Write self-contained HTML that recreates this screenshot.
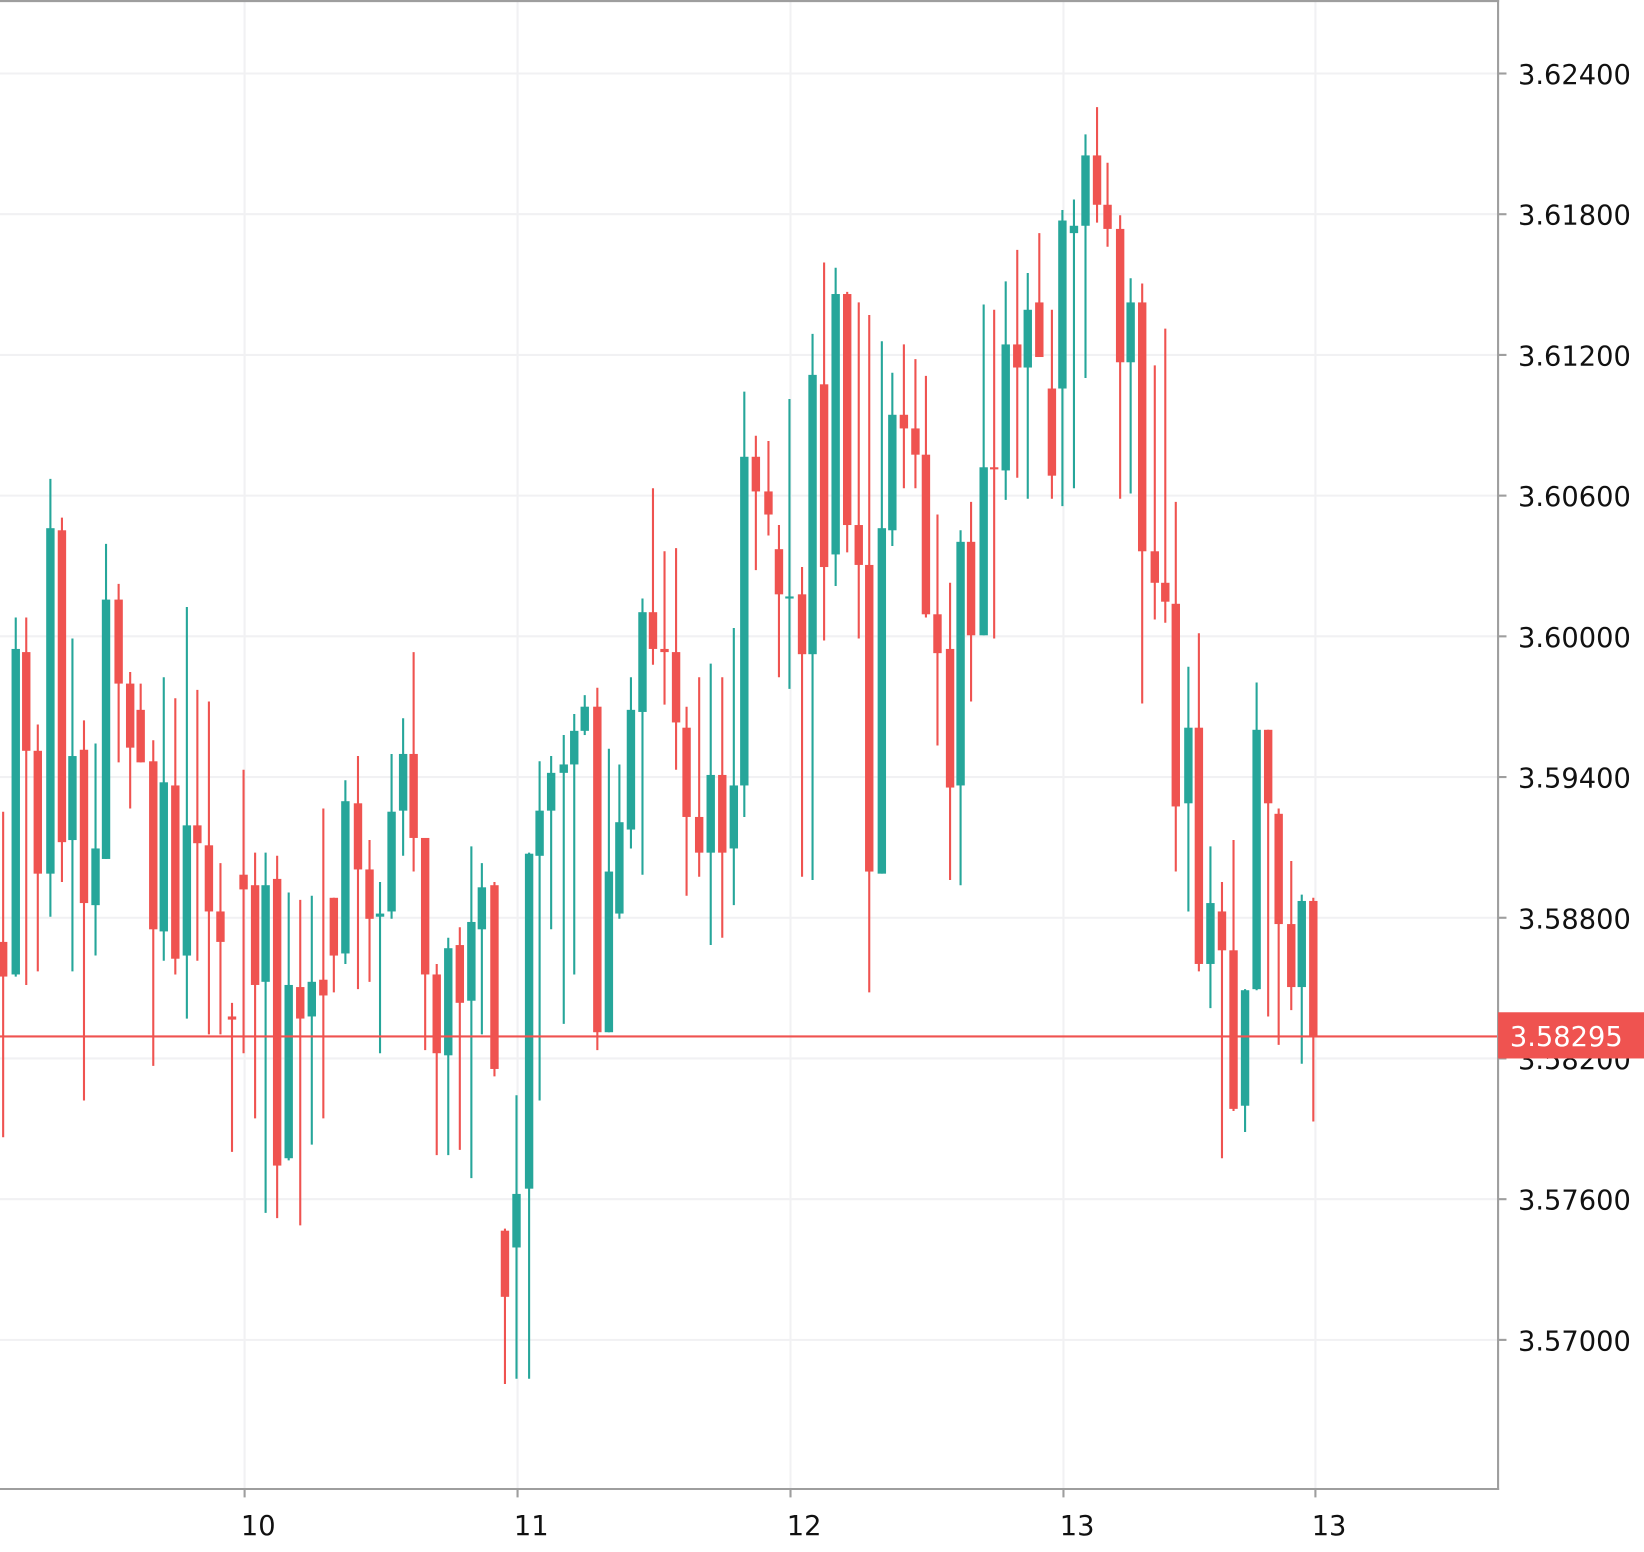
<!DOCTYPE html>
<html><head><meta charset="utf-8"><style>
html,body{margin:0;padding:0;background:#fff;}
svg{display:block;}
text{font-family:"DejaVu Sans","Liberation Sans",sans-serif;}
</style></head><body>
<svg id="c" width="1644" height="1552" viewBox="0 0 1566 1478" preserveAspectRatio="none" xmlns="http://www.w3.org/2000/svg">
<rect width="1566" height="1478" fill="#fff"/>
<g stroke="#f1f1f3" stroke-width="2">
<line x1="0" y1="70" x2="1427" y2="70"/><line x1="0" y1="204" x2="1427" y2="204"/>
<line x1="0" y1="338" x2="1427" y2="338"/><line x1="0" y1="472" x2="1427" y2="472"/>
<line x1="0" y1="606" x2="1427" y2="606"/><line x1="0" y1="740" x2="1427" y2="740"/>
<line x1="0" y1="874" x2="1427" y2="874"/><line x1="0" y1="1008" x2="1427" y2="1008"/>
<line x1="0" y1="1142" x2="1427" y2="1142"/><line x1="0" y1="1276" x2="1427" y2="1276"/>
<line x1="233" y1="0" x2="233" y2="1418"/><line x1="493" y1="0" x2="493" y2="1418"/>
<line x1="753" y1="0" x2="753" y2="1418"/><line x1="1013" y1="0" x2="1013" y2="1418"/>
<line x1="1253" y1="0" x2="1253" y2="1418"/>
</g>
<g id="cd"></g>
<line x1="0" y1="987" x2="1427" y2="987" stroke="#ef5350" stroke-width="2"/>
<g stroke="#9e9e9e" stroke-width="2" fill="none">
<line x1="0" y1="1" x2="1428" y2="1"/>
<line x1="1427" y1="0" x2="1427" y2="1419"/>
<line x1="0" y1="1418" x2="1428" y2="1418"/>
<line x1="1427" y1="70" x2="1435" y2="70"/><line x1="1427" y1="204" x2="1435" y2="204"/>
<line x1="1427" y1="338" x2="1435" y2="338"/><line x1="1427" y1="472" x2="1435" y2="472"/>
<line x1="1427" y1="606" x2="1435" y2="606"/><line x1="1427" y1="740" x2="1435" y2="740"/>
<line x1="1427" y1="874" x2="1435" y2="874"/><line x1="1427" y1="1008" x2="1435" y2="1008"/>
<line x1="1427" y1="1142" x2="1435" y2="1142"/><line x1="1427" y1="1276" x2="1435" y2="1276"/>
<line x1="233" y1="1418" x2="233" y2="1426"/><line x1="493" y1="1418" x2="493" y2="1426"/>
<line x1="753" y1="1418" x2="753" y2="1426"/><line x1="1013" y1="1418" x2="1013" y2="1426"/>
<line x1="1253" y1="1418" x2="1253" y2="1426"/>
</g>
<g font-size="26" fill="#111">
<text x="1446" y="80">3.62400</text><text x="1446" y="214">3.61800</text>
<text x="1446" y="348">3.61200</text><text x="1446" y="482">3.60600</text>
<text x="1446" y="616">3.60000</text><text x="1446" y="750">3.59400</text>
<text x="1446" y="884">3.58800</text><text x="1446" y="1018">3.58200</text>
<text x="1446" y="1152">3.57600</text><text x="1446" y="1286">3.57000</text>
<text x="246" y="1462" text-anchor="middle">10</text><text x="506" y="1462" text-anchor="middle">11</text>
<text x="766" y="1462" text-anchor="middle">12</text><text x="1026" y="1462" text-anchor="middle">13</text>
<text x="1266" y="1462" text-anchor="middle">13</text>
</g>
<rect x="1427" y="964" width="139" height="44" fill="#ef5350"/>
<text x="1492" y="996" font-size="26" fill="#fff" text-anchor="middle">3.58295</text>
</svg>
<script>
var d=[
[3,'r',773,1083,897,930],[15,'g',588,930,618,928],[25,'r',588,938,621,715],[36,'r',690,925,715,832],
[48,'g',456,873,503,832],[59,'r',493,840,505,802],[69,'g',608,925,720,800],[80,'r',686,1048,714,860],
[91,'g',708,910,808,862],[101,'g',518,818,571,818],[113,'r',556,726,571,651],[124,'r',640,770,651,712],
[134,'r',651,726,676,726],[146,'r',705,1015,725,885],[156,'g',645,915,745,887],[167,'r',665,928,748,913],
[178,'g',578,970,786,910],[188,'r',657,915,786,803],[199,'r',668,985,805,868],[210,'r',822,985,868,897],
[221,'r',955,1097,968,971],[232,'r',733,1003,833,847],[243,'r',812,1065,843,938],[253,'g',812,1155,843,935],
[264,'r',815,1160,837,1110],[275,'g',850,1105,938,1103],[286,'r',857,1167,940,970],[297,'g',853,1090,935,968],
[308,'r',770,1065,933,948],[318,'r',855,945,855,910],[329,'g',743,918,763,908],[341,'r',720,942,765,828],
[352,'r',800,935,828,875],[362,'g',840,1003,870,873],[373,'g',718,875,773,868],[384,'g',684,815,718,772],
[394,'r',621,830,718,798],[405,'r',798,1000,798,928],[416,'r',918,1100,928,1003],[427,'g',893,1100,903,1005],
[438,'r',883,1095,900,955],[449,'g',806,1122,878,953],[459,'g',822,985,845,885],[471,'r',840,1025,843,1018],
[481,'r',1170,1318,1172,1235],[492,'g',1043,1313,1137,1188],[504,'g',812,1313,813,1132],[514,'g',725,1048,772,815],
[525,'g',720,885,736,772],[537,'g',700,975,728,736],[547,'g',680,928,696,728],[557,'g',662,700,673,696],
[569,'r',655,1000,673,983],[580,'g',713,983,830,983],[590,'g',728,875,783,870],[601,'g',645,808,676,790],
[612,'g',570,833,583,678],[622,'r',465,633,583,618],[633,'r',525,671,618,621],[644,'r',522,733,621,688],
[654,'r',673,853,693,778],[666,'r',645,835,778,812],[677,'g',632,900,738,812],[688,'r',645,893,738,812],
[699,'g',598,862,748,808],[709,'g',373,778,435,748],[720,'r',415,543,435,468],[732,'r',420,510,468,490],
[742,'r',500,645,523,566],[752,'g',380,656,568,570],[764,'r',540,835,566,623],[774,'g',318,838,357,623],
[785,'r',250,610,366,540],[796,'g',255,558,280,528],[807,'r',278,526,280,500],[818,'r',288,608,500,538],
[828,'r',300,945,538,830],[840,'g',325,832,503,832],[850,'g',355,520,395,505],[861,'r',328,465,395,408],
[872,'r',342,465,408,433],[882,'r',358,588,433,585],[893,'r',490,710,585,622],[905,'r',555,838,618,750],
[915,'g',505,843,516,748],[925,'r',478,668,516,605],[937,'g',290,605,445,605],[947,'r',295,608,445,447],
[958,'g',268,476,328,448],[969,'r',238,455,328,350],[979,'g',260,475,295,350],[990,'r',222,340,288,340],
[1002,'r',295,475,370,453],[1012,'g',200,482,210,370],[1023,'g',190,465,215,222],[1034,'g',128,360,148,215],
[1045,'r',102,212,148,195],[1055,'r',155,235,195,218],[1067,'r',205,475,218,345],[1077,'g',265,470,288,345],
[1088,'r',270,670,288,525],[1100,'r',348,590,525,555],[1110,'r',313,593,555,573],[1120,'r',478,830,575,768],
[1132,'g',635,868,693,765],[1142,'r',603,925,693,918],[1153,'g',806,960,860,918],[1164,'r',840,1103,868,905],
[1175,'r',800,1058,905,1056],[1186,'g',942,1078,943,1053],[1197,'g',650,943,695,942],[1208,'r',695,968,695,765],
[1218,'r',770,995,775,880],[1230,'r',820,962,880,940],[1240,'g',852,1013,858,940],[1251,'r',855,1068,858,987]];
var s='';
d.forEach(function(c){var col=c[1]=='g'?'#26a69a':'#ef5350';
s+='<line x1="'+c[0]+'" x2="'+c[0]+'" y1="'+c[2]+'" y2="'+c[3]+'" stroke="'+col+'" stroke-width="2"/>';
var h=Math.max(c[5]-c[4],2);
s+='<rect x="'+(c[0]-4)+'" y="'+c[4]+'" width="8" height="'+h+'" fill="'+col+'"/>';});
document.getElementById('cd').innerHTML=s;
</script>
</body></html>
